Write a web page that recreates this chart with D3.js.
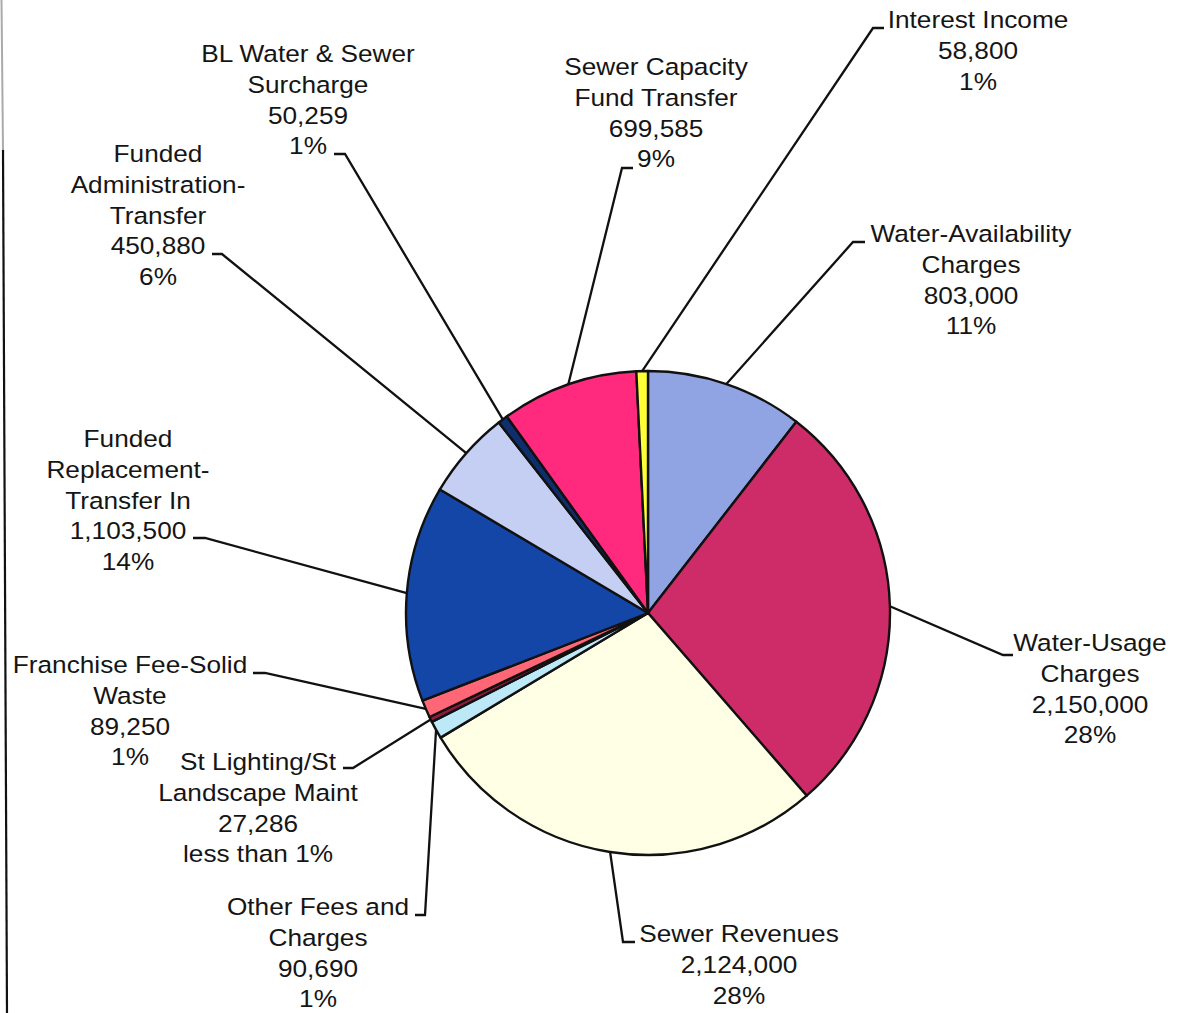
<!DOCTYPE html>
<html>
<head>
<meta charset="utf-8">
<script src="https://cdn.jsdelivr.net/npm/d3@7"></script>
<style>
  html, body { margin: 0; padding: 0; background: #fff; }
  svg { display: block; }
  text { font-family: "Liberation Sans", Arial, sans-serif; fill: #151515; }
</style>
</head>
<body>
<svg id="chart" width="1177" height="1013"></svg>
<script>
// ---- data (clockwise from 12 o'clock) ----
const categories = [
  "Water-Availability\nCharges",
  "Water-Usage\nCharges",
  "Sewer Revenues",
  "Other Fees and\nCharges",
  "St Lighting/St\nLandscape Maint",
  "Franchise Fee-Solid\nWaste",
  "Funded\nReplacement-\nTransfer In",
  "Funded\nAdministration-\nTransfer",
  "BL Water & Sewer\nSurcharge",
  "Sewer Capacity\nFund Transfer",
  "Interest Income"
];
const values = [803000, 2150000, 2124000, 90690, 27286, 89250, 1103500, 450880, 50259, 699585, 58800];
const percentLabels = ["11%", "28%", "28%", "1%", "less than 1%", "1%", "14%", "6%", "1%", "9%", "1%"];

// ---- styles / layout (not data) ----
const colors = ["#90A4E4", "#CE2C68", "#FFFFE5", "#BDE8F7", "#8E1B3D", "#FF6676",
                "#1446A8", "#C5CFF3", "#0F2E6E", "#FF2A7E", "#FFFF38"];
// label center x, first baseline y, elbow point, tick end x
const labelLayout = [
  {cx: 971, y: 242, ex: 853, ey: 242, tx: 865},
  {cx: 1090, y: 651, ex: 1003, ey: 655, tx: 1013},
  {cx: 739, y: 942, ex: 623, ey: 942, tx: 635},
  {cx: 318, y: 915, ex: 425, ey: 915, tx: 415},
  {cx: 258, y: 770, ex: 353, ey: 768, tx: 343},
  {cx: 130, y: 673, ex: 265, ey: 673, tx: 253},
  {cx: 128, y: 447, ex: 205, ey: 538, tx: 193},
  {cx: 158, y: 162, ex: 222, ey: 254, tx: 212},
  {cx: 308, y: 62, ex: 345, ey: 154, tx: 334},
  {cx: 656, y: 75, ex: 622, ey: 168, tx: 633},
  {cx: 978, y: 28, ex: 873, ey: 28, tx: 884}
];

const cx = 648, cy = 613, R = 242;
const lineH = 30.8;
const fmt = d3.format(",");

const svg = d3.select("#chart");

// left border fragment
svg.append("line").attr("x1", 1.5).attr("y1", 0).attr("x2", 3).attr("y2", 150)
  .attr("stroke", "#aaa").attr("stroke-width", 2);
svg.append("line").attr("x1", 3).attr("y1", 150).attr("x2", 7).attr("y2", 1013)
  .attr("stroke", "#111").attr("stroke-width", 2.2);

const data = values.map((v, i) => ({name: categories[i], value: v, pct: percentLabels[i], i}));
const pie = d3.pie().sort(null).value(d => d.value).startAngle(0).endAngle(2 * Math.PI);
const arcs = pie(data);
const arc = d3.arc().innerRadius(0).outerRadius(R);

const g = svg.append("g").attr("transform", `translate(${cx},${cy})`);
g.selectAll("path.slice").data(arcs).enter().append("path")
  .attr("class", "slice")
  .attr("d", arc)
  .attr("fill", d => colors[d.data.i])
  .attr("stroke", "#111")
  .attr("stroke-width", 2.4)
  .attr("stroke-linejoin", "round");

// leader lines
arcs.forEach(a => {
  const L = labelLayout[a.data.i];
  const mid = (a.startAngle + a.endAngle) / 2;
  const sx = cx + R * Math.sin(mid), sy = cy - R * Math.cos(mid);
  svg.append("polyline")
    .attr("points", `${sx},${sy} ${L.ex},${L.ey} ${L.tx},${L.ey}`)
    .attr("fill", "none").attr("stroke", "#111").attr("stroke-width", 2.3);
});

// labels
arcs.forEach(a => {
  const L = labelLayout[a.data.i];
  const lines = a.data.name.split("\n").concat([fmt(a.data.value), a.data.pct]);
  const t = svg.append("g").attr("transform", `translate(${L.cx},${L.y}) scale(1.07,1)`)
    .append("text").attr("text-anchor", "middle").attr("font-size", 24.5);
  lines.forEach((s, k) => {
    t.append("tspan").attr("x", 0).attr("y", k * lineH).text(s);
  });
});
</script>
</body>
</html>
